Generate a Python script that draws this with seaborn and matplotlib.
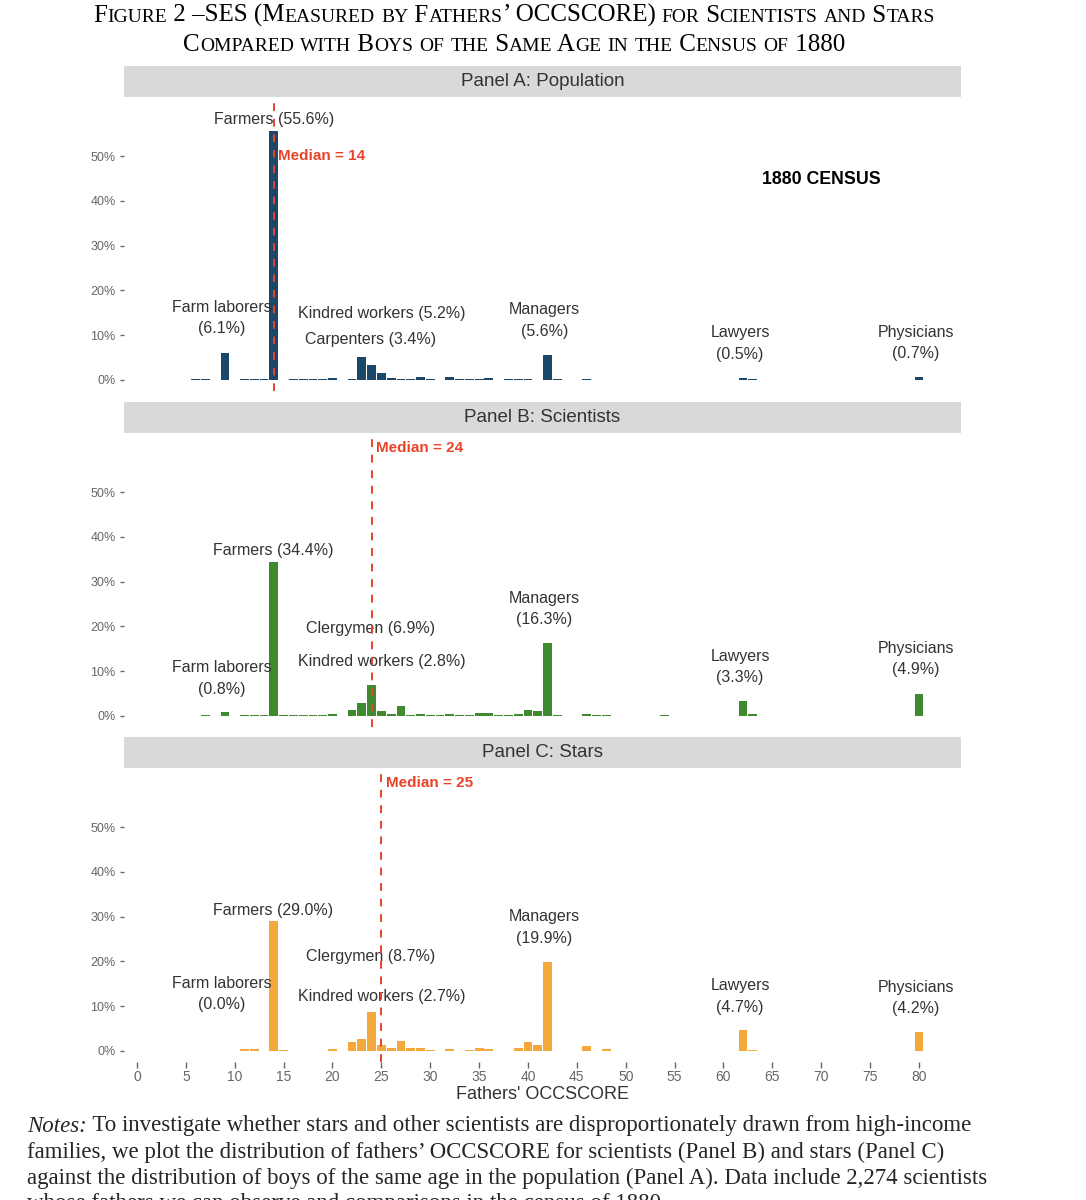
"""
SES of scientists and stars versus the 1880 census, measured by fathers' OCCSCORE.

Three stacked panels (population, scientists, stars) share one OCCSCORE axis.
Bars are the share of each group in every OCCSCORE value, with the median
shown as a red dashed line.
"""

import matplotlib

matplotlib.use("Agg")

import matplotlib.pyplot as plt
import pandas as pd
import seaborn as sns


# -----------------------------
# 1. Data
# -----------------------------

# Panel A: boys of the same age in the 1880 census (share in %).
POP_SCORES = [6, 7, 9, 11, 12, 13, 14, 16, 17, 18, 19, 20, 22, 23, 24, 25, 26, 27,
              28, 29, 30, 32, 33, 34, 35, 36, 38, 39, 40, 42, 43, 46, 62, 63, 80]
POP_SHARES = [0.1, 0.1, 6.1, 0.2, 0.2, 0.2, 55.6, 0.2, 0.2, 0.2, 0.2, 0.5, 0.2, 5.2,
              3.4, 1.6, 0.5, 0.2, 0.2, 0.6, 0.2, 0.6, 0.1, 0.1, 0.1, 0.5, 0.2, 0.1,
              0.1, 5.6, 0.1, 0.1, 0.5, 0.1, 0.7]

# Panel B: scientists.
SCI_SCORES = [7, 9, 11, 12, 13, 14, 15, 16, 17, 18, 19, 20, 22, 23, 24, 25, 26, 27,
              28, 29, 30, 31, 32, 33, 34, 35, 36, 37, 38, 39, 40, 41, 42, 43, 46, 47,
              48, 54, 62, 63, 80]
SCI_SHARES = [0.1, 0.8, 0.2, 0.2, 0.1, 34.4, 0.1, 0.1, 0.1, 0.1, 0.1, 0.3, 1.3, 2.8,
              6.9, 1.1, 0.4, 2.2, 0.1, 0.3, 0.1, 0.1, 0.5, 0.1, 0.1, 0.6, 0.6, 0.1,
              0.1, 0.3, 1.4, 1.0, 16.3, 0.1, 0.3, 0.1, 0.1, 0.1, 3.3, 0.3, 4.9]

# Panel C: stars.
STAR_SCORES = [11, 12, 14, 15, 20, 22, 23, 24, 25, 26, 27, 28, 29, 30, 32, 34, 35,
               36, 39, 40, 41, 42, 46, 48, 62, 63, 80]
STAR_SHARES = [0.3, 0.3, 29.0, 0.2, 0.3, 2.0, 2.7, 8.7, 1.3, 0.7, 2.3, 0.7, 0.7, 0.2,
               0.3, 0.2, 0.6, 0.3, 0.6, 2.0, 1.3, 19.9, 1.0, 0.3, 4.7, 0.2, 4.2]

MEDIANS = [14, 24, 25]
PANEL_TITLES = ["Panel A: Population", "Panel B: Scientists", "Panel C: Stars"]

X_TICKS = list(range(0, 85, 5))
Y_TICKS = [0, 10, 20, 30, 40, 50]
Y_TICK_LABELS = ["0%", "10%", "20%", "30%", "40%", "50%"]

# Labels placed over the bars: (text, OCCSCORE, share).
PANEL_A_LABELS = [
    ("Farmers (55.6%)", 14.0, 58.1),
    ("Farm laborers\n(6.1%)", 8.7, 13.8),
    ("Kindred workers (5.2%)", 25.0, 14.8),
    ("Carpenters (3.4%)", 23.9, 9.0),
    ("Managers\n(5.6%)", 41.7, 13.3),
    ("Lawyers\n(0.5%)", 61.7, 8.1),
    ("Physicians\n(0.7%)", 79.7, 8.2),
]
PANEL_B_LABELS = [
    ("Farmers (34.4%)", 13.9, 37.0),
    ("Managers\n(16.3%)", 41.7, 23.9),
    ("Clergymen (6.9%)", 23.9, 19.5),
    ("Kindred workers (2.8%)", 25.0, 12.1),
    ("Farm laborers\n(0.8%)", 8.7, 8.4),
    ("Lawyers\n(3.3%)", 61.7, 10.9),
    ("Physicians\n(4.9%)", 79.7, 12.7),
]
PANEL_C_LABELS = [
    ("Farmers (29.0%)", 13.9, 31.4),
    ("Managers\n(19.9%)", 41.7, 27.5),
    ("Clergymen (8.7%)", 23.9, 21.1),
    ("Kindred workers (2.7%)", 25.0, 12.1),
    ("Farm laborers\n(0.0%)", 8.7, 12.7),
    ("Lawyers\n(4.7%)", 61.7, 12.2),
    ("Physicians\n(4.2%)", 79.7, 11.8),
]

TITLE_LINES = [
    "Figure 2 \u2013SES (Measured by Fathers\u2019 OCCSCORE) for Scientists and Stars",
    "Compared with Boys of the Same Age in the Census of 1880",
]
NOTES_LINES = [
    " To investigate whether stars and other scientists are disproportionately drawn from high-income",
    "families, we plot the distribution of fathers\u2019 OCCSCORE for scientists (Panel B) and stars (Panel C)",
    "against the distribution of boys of the same age in the population (Panel A). Data include 2,274 scientists",
    "whose fathers we can observe and comparisons in the census of 1880.",
]


# -----------------------------
# 2. Style settings
# -----------------------------

FIG_W, FIG_H, DPI = 1086, 1200, 100

NAVY = "#1b4868"
GREEN = "#3f8a2f"
ORANGE = "#f3a93c"
MEDIAN_RED = "#e8432b"
STRIP_GRAY = "#d9d9d9"
TEXT_DARK = "#333333"
TICK_GRAY = "#666666"

SANS = ["Liberation Sans", "DejaVu Sans"]
SERIF = ["Liberation Serif", "DejaVu Serif"]

# Pixel layout of each panel: top of the grey strip.
STRIP_TOPS = [66, 402, 737]
STRIP_H = 31
PANEL_H = 294
PANEL_LEFT = 124
PANEL_W = 837

X_LIMITS = (-1.33, 84.3)
Y_LIMITS = (-2.5, 63.2)

# The title block is centred a little left of the figure middle.
TITLE_CENTER_X = 514


# -----------------------------
# 3. Helper functions
# -----------------------------

def px_box(left, top, width, height):
    """Convert a pixel box (from the top left) to figure fractions."""
    return [left / FIG_W, 1 - (top + height) / FIG_H, width / FIG_W, height / FIG_H]


def draw_small_caps(fig, line, y_px, size, ratio=0.78):
    """Draw one centred line of fake small caps in a serif font."""
    renderer = fig.canvas.get_renderer()
    runs = []
    for ch in line:
        small = ch.islower()
        if runs and runs[-1][1] == small:
            runs[-1][0] += ch
        else:
            runs.append([ch, small])

    pieces = []
    x_px = 0.0
    for chunk, small in runs:
        text = fig.text(0, 1 - y_px / FIG_H, chunk.upper() if small else chunk,
                        fontsize=size * ratio if small else size, family=SERIF,
                        va="baseline", ha="left", color="black")
        width = text.get_window_extent(renderer).width
        pieces.append((text, x_px))
        x_px += width

    start = TITLE_CENTER_X - x_px / 2
    for text, offset in pieces:
        text.set_x((start + offset) / FIG_W)


def draw_notes(fig, y_first, spacing, size):
    """Draw the notes paragraph below the chart."""
    renderer = fig.canvas.get_renderer()
    left = 27
    head = fig.text(left / FIG_W, 1 - y_first / FIG_H, "Notes:", fontsize=size,
                    family=SERIF, style="italic", va="center", ha="left")
    head_w = head.get_window_extent(renderer).width
    for i, line in enumerate(NOTES_LINES):
        x_px = left + head_w if i == 0 else left
        fig.text(x_px / FIG_W, 1 - (y_first + i * spacing) / FIG_H, line,
                 fontsize=size, family=SERIF, va="center", ha="left")


def draw_panel(fig, index, scores, shares, color, labels, show_x):
    """Draw one panel: strip title, bars, median line and labels."""
    top = STRIP_TOPS[index]

    strip = fig.add_axes(px_box(PANEL_LEFT, top, PANEL_W, STRIP_H))
    strip.set_facecolor(STRIP_GRAY)
    strip.set_xticks([])
    strip.set_yticks([])
    for spine in strip.spines.values():
        spine.set_visible(False)
    strip.text(0.5, 0.5, PANEL_TITLES[index], ha="center", va="center",
               fontsize=13.5, color=TEXT_DARK, transform=strip.transAxes)

    ax = fig.add_axes(px_box(PANEL_LEFT, top + STRIP_H, PANEL_W, PANEL_H))
    data = pd.DataFrame({"score": scores, "share": shares})
    sns.barplot(data=data, x="score", y="share", native_scale=True, width=0.9,
                color=color, saturation=1, errorbar=None, linewidth=0, ax=ax)

    ax.axvline(MEDIANS[index], color=MEDIAN_RED, linewidth=1.4,
               linestyle=(0, (4, 4)), zorder=5)
    ax.text(MEDIANS[index] + 0.45, 59.9 if index else 50.0,
            f"Median = {MEDIANS[index]}", color=MEDIAN_RED, fontsize=11,
            fontweight="bold", ha="left", va="center")

    for text, x, y in labels:
        ax.text(x, y, text, ha="center", va="center", fontsize=11.5,
                color=TEXT_DARK, linespacing=1.55)

    ax.set_xlim(*X_LIMITS)
    ax.set_ylim(*Y_LIMITS)
    ax.set_yticks(Y_TICKS)
    ax.set_yticklabels(Y_TICK_LABELS)
    ax.tick_params(axis="y", length=3, width=1, color=TICK_GRAY, pad=3,
                   labelsize=9, labelcolor=TICK_GRAY, left=True)

    ax.set_xticks(X_TICKS)
    if show_x:
        ax.tick_params(axis="x", length=4, width=1, color=TICK_GRAY, pad=2,
                       labelsize=10, labelcolor=TICK_GRAY, bottom=True)
        ax.set_xlabel("Fathers' OCCSCORE", fontsize=13, color=TEXT_DARK, labelpad=1)
    else:
        ax.tick_params(axis="x", bottom=False, labelbottom=False)
        ax.set_xlabel("")
    ax.set_ylabel("")

    sns.despine(ax=ax, left=True, bottom=True)
    return ax


# -----------------------------
# 4. Main workflow
# -----------------------------

def main() -> None:
    sns.set_theme(style="white")
    plt.rcParams["font.family"] = SANS

    fig = plt.figure(figsize=(FIG_W / DPI, FIG_H / DPI), dpi=DPI, facecolor="white")

    ax_a = draw_panel(fig, 0, POP_SCORES, POP_SHARES, NAVY, PANEL_A_LABELS, False)
    draw_panel(fig, 1, SCI_SCORES, SCI_SHARES, GREEN, PANEL_B_LABELS, False)
    draw_panel(fig, 2, STAR_SCORES, STAR_SHARES, ORANGE, PANEL_C_LABELS, True)

    ax_a.text(70.0, 44.8, "1880 CENSUS", ha="center", va="center", fontsize=12.8,
              fontweight="bold", color="black")

    draw_small_caps(fig, TITLE_LINES[0], 22, 18)
    draw_small_caps(fig, TITLE_LINES[1], 51, 18)
    draw_notes(fig, 1126, 26, 16.5)

    fig.savefig("out.png", dpi=DPI, facecolor="white")


if __name__ == "__main__":
    main()
